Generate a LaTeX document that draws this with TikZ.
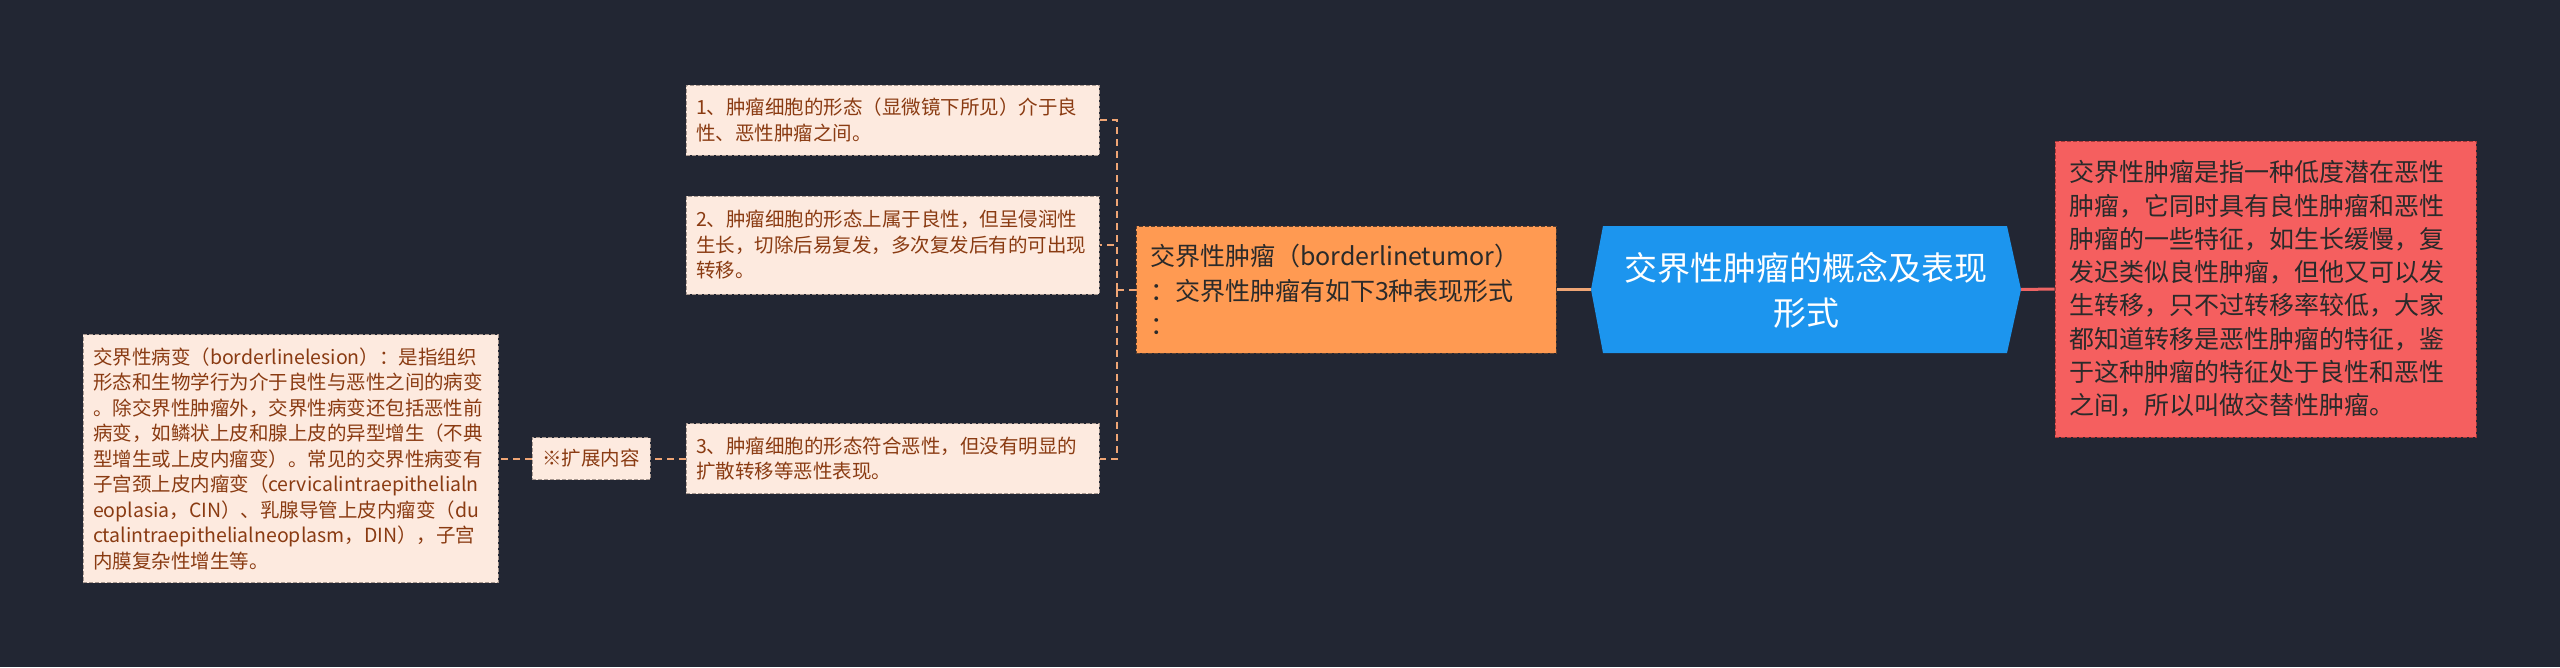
\documentclass[tikz,border=0pt]{standalone}
\usepackage{fontspec}
\setmainfont{Noto Sans CJK SC}
\definecolor{bg}{HTML}{222633}
\definecolor{leaffill}{HTML}{FDEADF}
\definecolor{leaftext}{HTML}{8A3B12}
\definecolor{leafborder}{HTML}{A89890}
\definecolor{connc}{HTML}{EFA575}
\definecolor{orangefill}{HTML}{FF9A52}
\definecolor{orangeborder}{HTML}{5A4030}
\definecolor{rootblue}{HTML}{1C95EE}
\definecolor{redfill}{HTML}{F55F5F}
\definecolor{redborder}{HTML}{A83838}
\definecolor{redline}{HTML}{EE6464}
\definecolor{darktext}{HTML}{2A2A2A}
\tikzset{
  leaf/.style={draw=leafborder, fill=leaffill, dash pattern=on 4pt off 2pt, line width=1pt,
    text=leaftext, align=left, inner xsep=10pt, inner ysep=0pt,
    font=\fontsize{19.5}{25.5}\selectfont},
  conn/.style={draw=connc, line width=2pt, dash pattern=on 7pt off 5pt},
  solidO/.style={draw=connc, line width=3pt},
  solidR/.style={draw=redline, line width=3pt},
}
\begin{document}
\begin{tikzpicture}[x=1pt,y=-1pt]
\useasboundingbox[fill=bg] (0,0) rectangle (2560,667);

% leaves
\node[leaf, text width=393pt, minimum height=70pt] (b1) at (892.5,120)
  {1、肿瘤细胞的形态（显微镜下所见）介于良\\性、恶性肿瘤之间。};
\node[leaf, text width=393pt, minimum height=98pt] (b2) at (892.5,245)
  {2、肿瘤细胞的形态上属于良性，但呈侵润性\\生长，切除后易复发，多次复发后有的可出现\\转移。};
\node[leaf, text width=393pt, minimum height=70pt] (b3) at (892.5,458.5)
  {3、肿瘤细胞的形态符合恶性，但没有明显的\\扩散转移等恶性表现。};
\node[leaf, text width=395pt, minimum height=248pt] (lesion) at (290.5,458.5)
  {交界性病变（borderlinelesion）：是指组织\\形态和生物学行为介于良性与恶性之间的病变\\。除交界性肿瘤外，交界性病变还包括恶性前\\病变，如鳞状上皮和腺上皮的异型增生（不典\\型增生或上皮内瘤变）。常见的交界性病变有\\子宫颈上皮内瘤变（cervicalintraepithelialn\\eoplasia，CIN）、乳腺导管上皮内瘤变（du\\ctalintraepithelialneoplasm，DIN），子宫\\内膜复杂性增生等。};
\node[leaf, align=center, inner xsep=0pt, minimum width=118pt, minimum height=42pt] (ext) at (591,458.5)
  {※扩展内容};

% orange branch
\node[draw=orangeborder, fill=orangefill, dash pattern=on 4pt off 2pt, line width=1pt,
  text=darktext, align=left, text width=392pt, inner xsep=14pt, inner ysep=0pt,
  minimum height=127pt, font=\fontsize{25}{34.5}\selectfont] (orange) at (1346,289.5)
  {交界性肿瘤（borderlinetumor）\\：交界性肿瘤有如下3种表现形式\\：};

% root hexagon
\fill[rootblue] (1591,289.5) -- (1603,226) -- (2007,226) -- (2021,289.5) -- (2007,353) -- (1603,353) -- cycle;
\coordinate (rootL) at (1591,289.5);
\coordinate (rootR) at (2021,289.5);
\node[text=white, align=center, font=\fontsize{33}{45}\selectfont] (root) at (1806,290)
  {交界性肿瘤的概念及表现\\形式};

% red box
\node[draw=redborder, fill=redfill, dash pattern=on 4pt off 2pt, line width=1pt,
  text=darktext, align=left, text width=393pt, inner xsep=14pt, inner ysep=0pt,
  minimum height=296pt, font=\fontsize{25}{33.3}\selectfont] (red) at (2265.5,289)
  {交界性肿瘤是指一种低度潜在恶性\\肿瘤，它同时具有良性肿瘤和恶性\\肿瘤的一些特征，如生长缓慢，复\\发迟类似良性肿瘤，但他又可以发\\生转移，只不过转移率较低，大家\\都知道转移是恶性肿瘤的特征，鉴\\于这种肿瘤的特征处于良性和恶性\\之间，所以叫做交替性肿瘤。};

% connectors
\coordinate (trunk) at (1117,289.5);
\draw[conn] (orange.west) -- (trunk);
\draw[conn] (trunk) |- (b1.east);
\draw[conn] (trunk) |- (b2.east);
\draw[conn] (trunk) |- (b3.east);
\draw[conn] (b3.west) -- (ext.east);
\draw[conn] (ext.west) -- (lesion.east);
\draw[solidO] (orange.east) -- (rootL);
\draw[solidR] (rootR) -- (red.west);
\end{tikzpicture}
\end{document}
